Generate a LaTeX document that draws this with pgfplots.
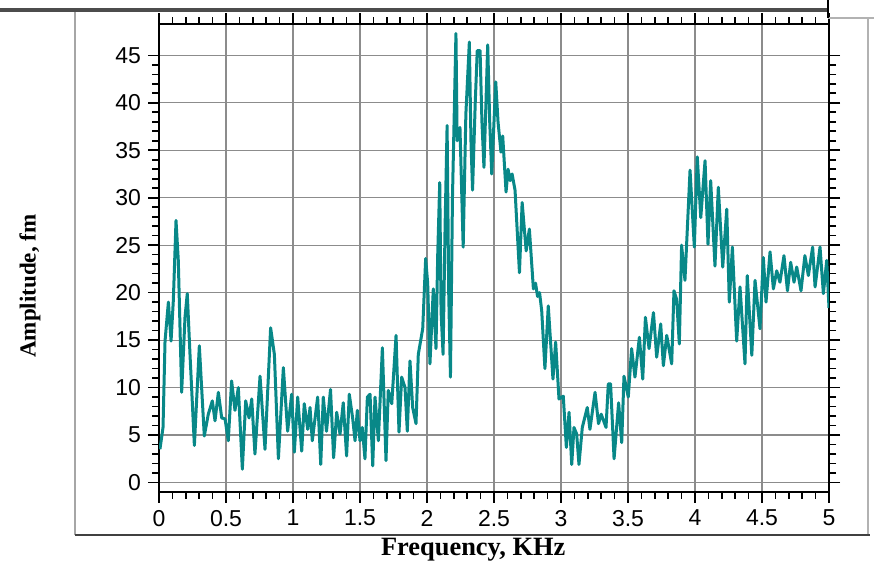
\documentclass[border=0pt]{standalone}
\usepackage{fontspec}
\setmainfont{Liberation Serif}
\setsansfont{Liberation Sans}
\usepackage{pgfplots}
\pgfplotsset{compat=1.18}
\definecolor{spec}{RGB}{8,136,136}
\definecolor{gridc}{RGB}{140,140,140}
\begin{document}
\begin{tikzpicture}
\useasboundingbox (0,0) rectangle (437pt,284pt);
\begin{axis}[
    at={(79.5pt,38pt)}, anchor=south west,
    scale only axis,
    width=335pt, height=234pt,
    xmin=0, xmax=5, ymin=-1, ymax=48.3,
    xtick={0,0.5,...,5},
    ytick={0,5,...,45},
    minor x tick num=4,
    minor y tick num=4,
    tick align=outside,
    major tick length=5.5pt,
    minor tick length=3.5pt,
    every tick/.style={black, line width=0.8pt},
    axis line style={black, line width=1pt},
    grid=major,
    major grid style={gridc, line width=0.6pt},
    /pgf/number format/assume math mode=true,
    ticklabel style={font=\fontsize{11.5}{13}\sffamily},
    xticklabels={0,0.5,1,1.5,2,2.5,3,3.5,4,4.5,5},
    xlabel={Frequency, KHz},
    ylabel={Amplitude, fm},
    xlabel style={font=\fontsize{13.2}{15}\bfseries, at={(axis description cs:0.469,-0.124)}, anchor=center},
    ylabel style={font=\fontsize{11.5}{13}\bfseries, at={(axis description cs:-0.1925,0.44)}, anchor=center, rotate=0},
    clip=true,
  ]
  \addplot [color=spec, line width=1.5pt, line join=round] coordinates {
    (0.007,3.5)(0.03,5.8)(0.045,14.9)(0.07,19.0)(0.09,14.9)(0.107,19.2)
    (0.127,27.6)(0.144,23.4)(0.169,9.5)(0.194,17.4)(0.211,19.9)(0.231,13.6)
    (0.264,3.9)(0.301,14.4)(0.338,4.9)(0.368,7.2)(0.398,8.6)(0.418,6.5)
    (0.443,9.5)(0.468,6.8)(0.493,6.7)(0.517,4.4)(0.542,10.7)(0.567,7.6)
    (0.592,10.0)(0.622,1.4)(0.647,8.6)(0.672,6.8)(0.692,8.8)(0.716,3.0)
    (0.754,11.2)(0.791,3.5)(0.833,16.3)(0.861,13.5)(0.891,2.5)(0.928,12.1)
    (0.960,5.4)(0.990,9.3)(1.010,3.2)(1.035,9.0)(1.065,3.3)(1.084,8.3)
    (1.110,5.6)(1.127,7.9)(1.144,4.4)(1.184,9.0)(1.207,1.9)(1.226,9.0)
    (1.25,5.4)(1.28,9.8)(1.303,2.6)(1.326,7.4)(1.351,5.1)(1.375,8.4)
    (1.40,2.8)(1.42,9.3)(1.445,6.8)(1.463,4.4)(1.48,7.6)(1.50,4.4)
    (1.517,5.8)(1.537,2.5)(1.555,9.0)(1.575,9.3)(1.595,1.75)(1.612,9.0)
    (1.637,4.4)(1.667,14.2)(1.694,2.3)(1.711,9.7)(1.737,8.3)(1.769,15.5)
    (1.791,5.3)(1.811,11.1)(1.836,10.0)(1.853,5.4)(1.873,12.8)(1.893,7.9)
    (1.918,6.2)(1.935,13.5)(1.968,16.2)(1.99,23.6)(2.005,21.0)(2.022,12.5)
    (2.047,20.4)(2.067,14.1)(2.08,24.0)(2.095,31.6)(2.105,18.0)(2.12,13.5)
    (2.135,27.0)(2.15,37.6)(2.162,20.0)(2.175,11.1)(2.19,30.0)
    (2.216,47.3)(2.225,36.0)(2.246,37.4)(2.27,24.8)(2.29,38.8)(2.316,46.4)
    (2.328,36.0)(2.34,30.8)(2.36,40.0)
    (2.375,45.5)(2.396,45.5)(2.41,38.0)(2.425,33.2)(2.44,40.0)(2.453,46.1)
    (2.468,38.0)(2.483,32.5)(2.513,42.2)(2.53,38.0)
    (2.552,34.8)(2.565,36.5)(2.59,30.6)(2.605,33.0)(2.62,31.8)(2.635,32.5)(2.657,30.8)(2.69,22.1)(2.71,29.5)
    (2.74,24.4)(2.764,26.7)(2.794,20.4)(2.81,21.0)(2.825,19.6)(2.84,20.0)(2.856,18.1)(2.88,12.0)(2.905,18.6)
    (2.94,10.9)(2.96,14.8)(2.985,8.8)(3.017,9.1)(3.04,3.7)(3.06,7.4)
    (3.08,1.9)(3.097,5.8)(3.117,5.1)(3.134,1.9)(3.159,5.8)(3.196,7.9)
    (3.216,5.6)(3.254,9.5)(3.28,6.2)(3.30,7.2)(3.336,5.8)(3.353,10.4)
    (3.37,10.4)(3.396,2.5)(3.43,8.4)(3.453,4.2)(3.47,11.2)(3.502,9.0)
    (3.527,14.1)(3.552,11.1)(3.585,15.3)(3.61,10.9)(3.63,17.4)(3.657,14.1)
    (3.69,17.9)(3.714,13.2)(3.744,16.7)(3.764,12.3)(3.789,15.5)(3.826,12.5)
    (3.843,20.2)(3.863,19.3)(3.883,14.6)(3.90,25.0)(3.925,21.3)(3.963,32.9)
    (3.995,24.8)(4.017,34.3)(4.043,27.9)(4.075,33.9)(4.097,25.1)(4.117,31.8)
    (4.149,22.8)(4.174,31.1)(4.207,22.7)(4.237,28.8)(4.256,19.0)(4.279,24.8)
    (4.311,14.9)(4.336,20.6)(4.373,12.5)(4.39,21.8)(4.424,13.4)(4.448,21.3)
    (4.485,16.2)(4.51,23.7)(4.53,19.0)(4.56,24.3)(4.585,20.4)(4.61,22.3)
    (4.634,21.1)(4.664,23.9)(4.69,20.2)(4.714,23.2)(4.739,21.1)(4.759,22.7)
    (4.791,20.2)(4.82,23.9)(4.846,21.8)(4.878,24.8)(4.896,20.6)(4.933,24.8)
    (4.958,19.9)(4.983,23.4)(5.0,18.4)
  };
\end{axis}
% frame of the figure panel
\draw[gray!70, line width=0.7pt] (37.5pt,16.5pt) -- (37.5pt,278pt);
\draw[gray!60, line width=0.7pt] (434pt,16.5pt) -- (434pt,275pt);
\draw[gray!60, line width=0.7pt] (414pt,275pt) -- (437pt,275pt);
\draw[black!75, line width=1.2pt] (37.5pt,16.5pt) -- (435pt,16.5pt);
\draw[black!70, line width=2pt] (0pt,279pt) -- (414pt,279pt);
\draw[black, line width=1.2pt] (414pt,275pt) -- (414pt,284pt);
\end{tikzpicture}
\end{document}
